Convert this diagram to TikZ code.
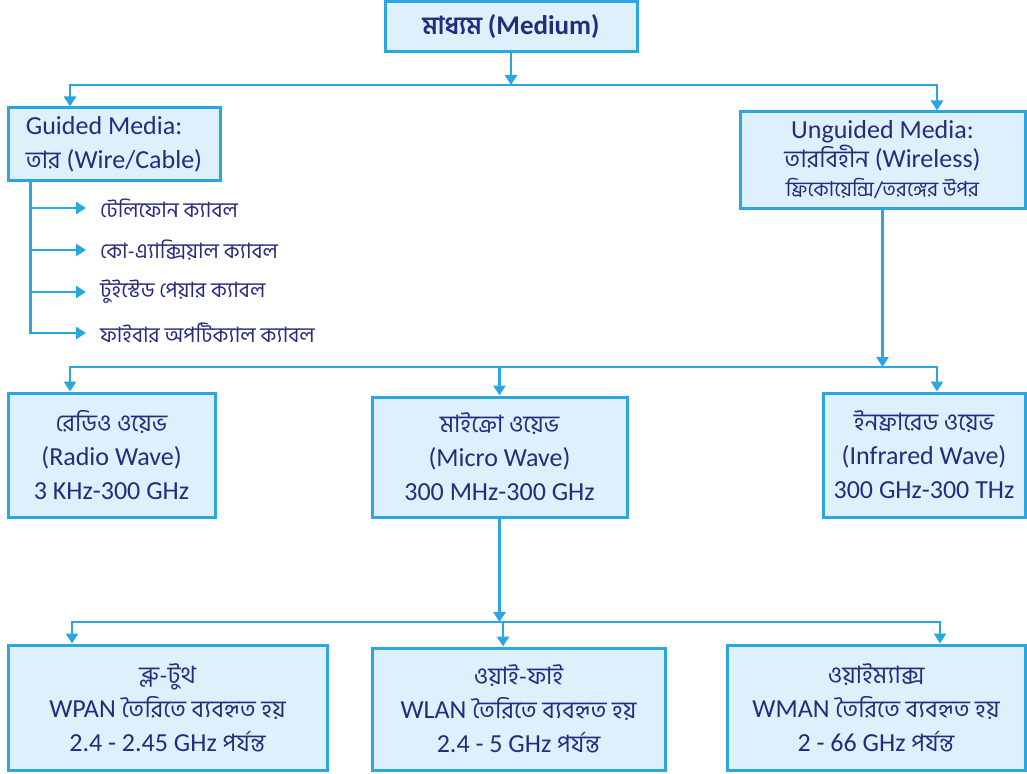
\documentclass[tikz,border=0pt]{standalone}
\usepackage{fontspec}
\setmainfont{Carlito}
\newfontfamily\bn[Script=Bengali,Scale=0.92]{Hind Siliguri}
\usetikzlibrary{arrows.meta}
\definecolor{bord}{HTML}{2AA7DF}
\definecolor{fillc}{HTML}{DDF0FC}
\definecolor{txt}{HTML}{272B7E}
\tikzset{
 box/.style={draw=bord, fill=fillc, line width=3pt, text=txt, align=center, inner sep=0pt, font=\fontsize{26}{34}\selectfont},
 conn/.style={draw=bord, line width=2.5pt},
 arr/.style={conn, -{Triangle[width=12pt,length=10pt]}},
 item/.style={text=txt, anchor=west, inner sep=0pt, font=\bn\fontsize{23}{26}\selectfont}
}
\begin{document}
\begin{tikzpicture}[x=1pt,y=-1pt]
\useasboundingbox[fill=white] (0,0) rectangle (1027,773);
% nodes
\node[box, minimum width=252pt, minimum height=50pt, font=\bfseries\fontsize{27}{30}\selectfont] (top) at (511,27) {{\bn মাধ্যম} (Medium)};
\node[box, minimum width=212pt, minimum height=72pt, align=left] (guided) at (114,144) {Guided Media:\\ {\bn তার} (Wire/Cable)};
\node[box, minimum width=285pt, minimum height=96pt, font=\fontsize{26}{29}\selectfont] (unguided) at (882.5,160) {Unguided Media:\\ {\bn তারবিহীন} (Wireless)\\ {\bn\fontsize{22.5}{29}\selectfont ফ্রিকোয়েন্সি/তরঙ্গের উপর}};
\node[item] (i1) at (100,208) {টেলিফোন ক্যাবল};
\node[item] (i2) at (100,250) {কো-এ্যাক্সিয়াল ক্যাবল};
\node[item] (i3) at (100,292) {টুইস্টেড পেয়ার ক্যাবল};
\node[item] (i4) at (100,333) {ফাইবার অপটিক্যাল ক্যাবল};
\node[box, minimum width=207pt, minimum height=124pt] (radio) at (111.5,455) {{\bn রেডিও ওয়েভ}\\ (Radio Wave)\\ 3 KHz-300 GHz};
\node[box, minimum width=255pt, minimum height=120pt] (micro) at (499.5,457) {{\bn মাইক্রো ওয়েভ}\\ (Micro Wave)\\ 300 MHz-300 GHz};
\node[box, minimum width=202pt, minimum height=124pt] (infra) at (924,455) {{\bn ইনফ্রারেড ওয়েভ}\\ (Infrared Wave)\\ 300 GHz-300 THz};
\node[box, minimum width=319pt, minimum height=125pt] (blue) at (167.5,707.5) {{\bn ব্লু-টুথ}\\ WPAN {\bn তৈরিতে ব্যবহৃত হয়}\\ 2.4 - 2.45 GHz {\bn পর্যন্ত}};
\node[box, minimum width=293pt, minimum height=122pt] (wifi) at (518.5,709) {{\bn ওয়াই-ফাই}\\ WLAN {\bn তৈরিতে ব্যবহৃত হয়}\\ 2.4 - 5 GHz {\bn পর্যন্ত}};
\node[box, minimum width=298pt, minimum height=125pt] (wimax) at (876,707.5) {{\bn ওয়াইম্যাক্স}\\ WMAN {\bn তৈরিতে ব্যবহৃত হয়}\\ 2 - 66 GHz {\bn পর্যন্ত}};
% level 1
\coordinate (h1) at (511,85);
\draw[arr] (top.south) -- (h1);
\draw[arr] (h1) -| ([xshift=-44pt]guided.north);
\draw[arr] (h1) -| ([xshift=54.5pt]unguided.north);
% guided list
\coordinate (gv) at ([xshift=24pt]guided.south west);
\draw[arr] (gv) |- ([xshift=-14pt]i4.west);
\foreach \i in {i1,i2,i3} \draw[arr] (gv |- \i.west) -- ([xshift=-14pt]\i.west);
% level 2
\coordinate (h2) at (unguided.south |- 0,367);
\draw[arr] (unguided.south) -- (h2);
\draw[arr] (h2) -| ([xshift=-41.5pt]radio.north);
\draw[arr] (h2) -| ([xshift=13pt]infra.north);
\draw[arr] (h2 -| micro.north) -- (micro.north);
% level 3
\coordinate (h3) at (micro.south |- 0,622);
\draw[arr] (micro.south) -- (h3);
\draw[arr] (h3) -| ([xshift=-95.5pt]blue.north);
\draw[arr] (h3) -| ([xshift=64pt]wimax.north);
\coordinate (wt) at ([xshift=-15.5pt]wifi.north);
\draw[arr] (h3 -| wt) -- (wt);
\end{tikzpicture}
\end{document}
